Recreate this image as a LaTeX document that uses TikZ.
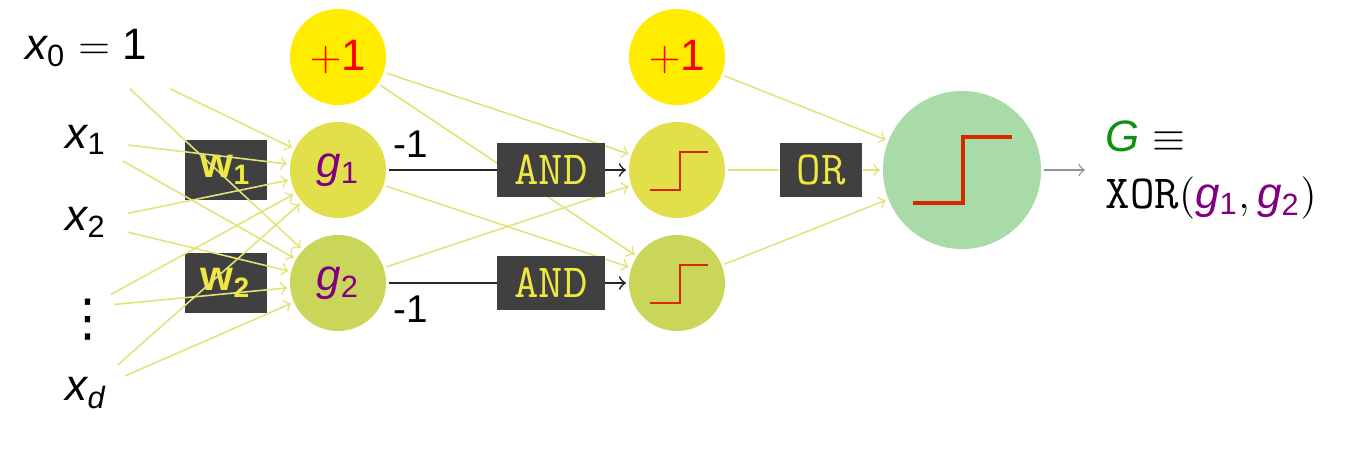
\documentclass[tikz,border=0pt]{standalone}
\usepackage{fontspec}
\setmainfont{Liberation Sans}
\newfontfamily\symfont{DejaVu Sans}
\usetikzlibrary{backgrounds}

\definecolor{biasyellow}{HTML}{FFEC00}
\definecolor{upper}{HTML}{E2E04A}
\definecolor{lower}{HTML}{CAD65A}
\definecolor{outgreen}{HTML}{A8DBA8}
\definecolor{wirecol}{HTML}{E3E37A}
\definecolor{boxgray}{HTML}{404040}
\definecolor{boxtext}{HTML}{F0E840}
\definecolor{gpurple}{HTML}{800080}
\definecolor{ggreen}{HTML}{109010}
\definecolor{stepred}{HTML}{D42A00}

\newcommand{\subvar}[2]{{\itshape #1}\textsubscript{#2}}

\tikzset{
  unit/.style={circle, minimum size=0.96cm, inner sep=0pt, outer sep=0.03cm},
  gatebox/.style={rectangle, fill=boxgray, text=boxtext, inner sep=0pt,
    font=\fontsize{13.5}{16}\selectfont\ttfamily},
  wire/.style={draw=wirecol, line width=0.45pt, ->},
  link/.style={draw=black!85, line width=0.5pt},
  stepline/.style={draw=stepred, line width=0.8pt}
}

\begin{document}
\begin{tikzpicture}[x=0.01cm, y=-0.01cm, font=\fontsize{12.5}{16}\selectfont]
\useasboundingbox (0,0) rectangle (1370,457);

\node[gatebox, minimum width=0.82cm, minimum height=0.6cm, font=\fontsize{12}{14}\selectfont\bfseries] (w 1) at (226,170) {w\textsubscript{1}};
\node[gatebox, minimum width=0.82cm, minimum height=0.6cm, font=\fontsize{12}{14}\selectfont\bfseries] (w 2) at (226,283) {w\textsubscript{2}};

\node[minimum width=1.7cm, minimum height=0.8cm, inner sep=0pt] (input 0) at (86,48) {\subvar{x}{0} $=$ 1};
\foreach \i/\y/\t in {1/140/\subvar{x}{1}, 2/222/\subvar{x}{2}, 4/393/\subvar{x}{\itshape d}}
  \node[circle, minimum size=0.84cm, inner sep=0pt] (input \i) at (86,\y) {\t};
\node[circle, minimum size=0.5cm, inner sep=0pt] (input 3) at (88,307) {\raisebox{-0.28cm}[0pt][0pt]{\fontsize{14.5}{16}\symfont ⋮}};

\node[unit, fill=biasyellow] (hidden 0) at (338,57) {\textcolor{red}{$+$1}};
\node[unit, fill=upper] (hidden 1) at (338,170) {\textcolor{gpurple}{\subvar{g}{1}}};
\node[unit, fill=lower] (hidden 2) at (338,283) {\textcolor{gpurple}{\subvar{g}{2}}};
\node[unit, fill=biasyellow] (step 0) at (677,57) {\textcolor{red}{$+$1}};
\node[unit, fill=upper] (step 1) at (677,170) {};
\node[unit, fill=lower] (step 2) at (677,283) {};
\node[unit, fill=outgreen, minimum size=1.58cm] (output) at (962,170) {};

\node[gatebox, minimum width=1.07cm, minimum height=0.54cm] (and 1) at (551,170) {AND};
\node[gatebox, minimum width=1.07cm, minimum height=0.54cm] (and 2) at (551,283) {AND};
\node[gatebox, minimum width=0.82cm, minimum height=0.54cm] (or) at (821,170) {OR};

\node[anchor=west, align=left, inner xsep=0.2cm] (result) at (1085,170)
  {\textcolor{ggreen}{\textit{G}} $\equiv$\\{\fontsize{13.5}{16}\selectfont\ttfamily XOR}$($\textcolor{gpurple}{\subvar{g}{1}}$,$\,\textcolor{gpurple}{\subvar{g}{2}}$)$};

\foreach \i in {0,...,4} {
  \draw[wire] (input \i) -- (hidden 1);
  \draw[wire] (input \i) -- (hidden 2);
}

\begin{scope}[on background layer]
\draw[wire] (hidden 0) -- (step 1);
\draw[wire] (hidden 0) -- (step 2);
\draw[wire] (hidden 1) -- (step 2);
\draw[wire] (hidden 2) -- (step 1);
\end{scope}

\draw[link] (hidden 1) -- node[above, pos=0.2, font=\fontsize{11}{13}\selectfont] (minus 1) {-1} (and 1);
\draw[link, ->] (and 1) -- (step 1);
\draw[link] (hidden 2) -- node[below, pos=0.2, font=\fontsize{11}{13}\selectfont] (minus 2) {-1} (and 2);
\draw[link, ->] (and 2) -- (step 2);

\draw[wire] (step 0) -- (output);
\draw[wire, -] (step 1) -- (or);
\draw[wire] (or) -- (output);
\draw[wire] (step 2) -- (output);

\foreach \n in {1,2}
  \draw[stepline] ([shift={(-27,20)}]step \n.center) -- ++(30,0) -- ++(0,-38) -- ++(28,0);
\draw[stepline, line width=0.9pt] ([shift={(-49,33)}]output.center) -- ++(50,0) -- ++(0,-66) -- ++(49,0);

\draw[->, draw=gray!85] (output) -- (result);
\end{tikzpicture}
\end{document}
